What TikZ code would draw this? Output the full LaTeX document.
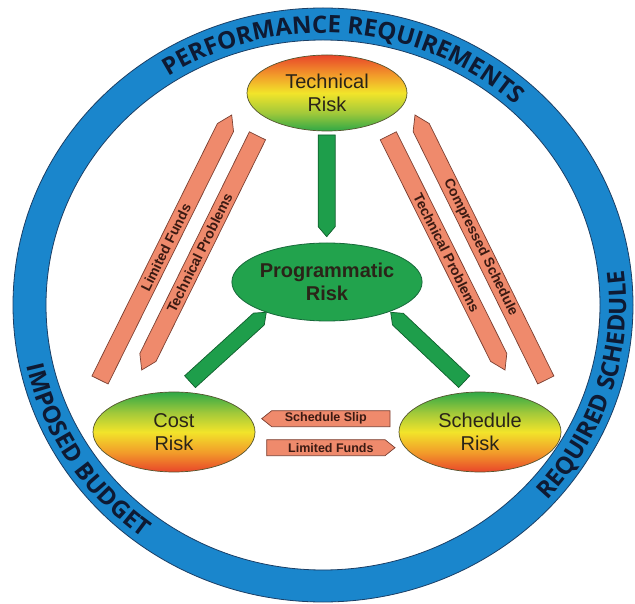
\documentclass[tikz,border=0pt]{standalone}
\usepackage{fontspec}
\setmainfont{Liberation Sans}
\newfontfamily\ringfont{Open Sans}
\usetikzlibrary{shapes.geometric,calc,decorations.text}
\definecolor{ringblue}{HTML}{1A86CC}
\definecolor{ringedge}{HTML}{1B3F66}
\definecolor{ringtextcol}{HTML}{0E1A33}
\definecolor{salmon}{HTML}{EF8A6C}
\definecolor{salmonedge}{HTML}{7B4032}
\definecolor{salmontext}{HTML}{3B1A12}
\definecolor{garrow}{HTML}{1E9E4B}
\definecolor{garrowedge}{HTML}{0F5E2C}
\definecolor{progfill}{HTML}{22A34D}
\definecolor{progedge}{HTML}{17693A}
\definecolor{textdark}{HTML}{2A2418}
\definecolor{ellipseedge}{HTML}{55552E}
\definecolor{sgreen}{HTML}{2EA846}
\definecolor{slime}{HTML}{A2C93A}
\definecolor{syellow}{HTML}{F2E42A}
\definecolor{sorange}{HTML}{F29A2A}
\definecolor{sred}{HTML}{E8452A}
\pgfdeclareverticalshading{techshade}{100bp}{color(0bp)=(sgreen); color(25bp)=(sgreen); color(37bp)=(slime); color(50bp)=(syellow); color(62bp)=(sorange); color(75bp)=(sred); color(100bp)=(sred)}
\pgfdeclareverticalshading{costshade}{100bp}{color(0bp)=(sred); color(25bp)=(sred); color(37bp)=(sorange); color(50bp)=(syellow); color(62bp)=(slime); color(75bp)=(sgreen); color(100bp)=(sgreen)}
\newcommand\ringtext{\ringfont\bfseries\fontsize{24}{24}\selectfont}
% #1 name, #2 style, #3 start, #4 apex, #5 half width, #6 tip length
\newcommand\fatarrow[6]{%
  \coordinate (#1-q) at ($(#4)!#6!(#3)$);
  \draw[#2] ($(#3)!#5!90:(#4)$) -- ($(#1-q)!#5!90:(#4)$) -- (#4)
    -- ($(#1-q)!#5!-90:(#4)$) -- ($(#3)!#5!-90:(#4)$) -- cycle;
}
\begin{document}
\begin{tikzpicture}[x=1pt,y=1pt,
  riskell/.style={ellipse, shade, draw=ellipseedge, line width=0.7pt, inner sep=0pt,
    align=center, font=\fontsize{20}{23.5}\selectfont, text=textdark},
  barstyle/.style={fill=salmon, draw=salmonedge, line width=0.7pt, line join=miter},
  greenstyle/.style={fill=garrow, draw=garrowedge, line width=0.7pt},
  barlabel/.style={font=\bfseries\fontsize{14}{14}\selectfont, text=salmontext, inner sep=0pt},
  hbarlabel/.style={font=\bfseries\fontsize{12.5}{12.5}\selectfont, text=salmontext, inner sep=0pt},
  ringdeco/.style={decorate, decoration={text along path, text align=center,
    text color=ringtextcol, text={|\ringtext|#1}}}
]
\useasboundingbox (0,0) rectangle (635,603);
\fill[white] (0,0) rectangle (635,603);
\coordinate (C) at (323,298);
% ring
\fill[ringblue, even odd rule] (C) ellipse [x radius=310pt, y radius=297pt]
  (C) ellipse [x radius=277pt, y radius=265pt];
\draw[ringedge, line width=0.8pt] (C) ellipse [x radius=310pt, y radius=297pt];
\draw[ringedge, line width=0.8pt] (C) ellipse [x radius=277pt, y radius=265pt];
\path[ringdeco={PERFORMANCE REQUIREMENTS}] ($(C)+(140:284pt and 272pt)$)
  arc[start angle=140, end angle=30, x radius=284pt, y radius=272pt];
\path[ringdeco={IMPOSED BUDGET}] ($(C)+(175:303pt and 290pt)$)
  arc[start angle=175, end angle=250, x radius=303pt, y radius=290pt];
\path[ringdeco={REQUIRED SCHEDULE}] ($(C)+(-62:303pt and 290pt)$)
  arc[start angle=-62, end angle=27, x radius=303pt, y radius=290pt];

% nodes
\node[riskell, shading=techshade, minimum width=160pt, minimum height=76pt] (tech) at (327,510) {Technical\\Risk};
\node[ellipse, fill=progfill, draw=progedge, line width=0.8pt, inner sep=0pt, minimum width=158pt, minimum height=78pt,
  align=center, font=\bfseries\fontsize{20}{23}\selectfont, text=textdark] (prog) at (327,321) {Programmatic\\Risk};
\node[riskell, shading=costshade, minimum width=162pt, minimum height=80pt] (cost) at (174,171) {Cost\\Risk};
\node[riskell, shading=costshade, minimum width=162pt, minimum height=80pt] (sched) at (480,171) {Schedule\\Risk};

% arrow end points
\coordinate (lfA) at (100,223);   \coordinate (lfB) at (231.7,488);
\coordinate (tpA) at (257.5,467.2); \coordinate (tpB) at (141.7,233);
\coordinate (tqA) at (388.3,467.2); \coordinate (tqB) at (505,233);
\coordinate (csA) at (545.8,223); \coordinate (csB) at (415,488);
\coordinate (ssA) at (390,184.3); \coordinate (ssB) at (261.7,184.3);
\coordinate (lgA) at (266.7,155.3); \coordinate (lgB) at (395,155.3);
\coordinate (g1A) at (326.7,468); \coordinate (g1B) at (326.7,366.3);
\coordinate (g2A) at (190,221.3); \coordinate (g2B) at (266.3,290.7);
\coordinate (g3A) at (464.2,221.3); \coordinate (g3B) at (390.7,290.7);

% salmon bars
\fatarrow{lf}{barstyle}{lfA}{lfB}{9pt}{14pt}
\fatarrow{tp}{barstyle}{tpA}{tpB}{9pt}{14pt}
\fatarrow{tq}{barstyle}{tqA}{tqB}{9pt}{14pt}
\fatarrow{cs}{barstyle}{csA}{csB}{9pt}{14pt}
\fatarrow{ss}{barstyle}{ssA}{ssB}{8pt}{10pt}
\fatarrow{lg}{barstyle}{lgA}{lgB}{8pt}{10pt}
\path (lfA) -- (lfB) node[midway, sloped, barlabel] {Limited Funds};
\path (tpA) -- (tpB) node[midway, sloped, barlabel] {Technical Problems};
\path (tqA) -- (tqB) node[midway, sloped, barlabel] {Technical Problems};
\path (csA) -- (csB) node[midway, sloped, barlabel] {Compressed Schedule};
\path (ssA) -- (ssB) node[midway, sloped, hbarlabel] {Schedule Slip};
\path (lgA) -- (lgB) node[midway, sloped, hbarlabel] {Limited Funds};

% green arrows
\fatarrow{ga}{greenstyle}{g1A}{g1B}{8.5pt}{10pt}
\fatarrow{gb}{greenstyle}{g2A}{g2B}{8pt}{10pt}
\fatarrow{gc}{greenstyle}{g3A}{g3B}{8pt}{10pt}
\end{tikzpicture}
\end{document}
